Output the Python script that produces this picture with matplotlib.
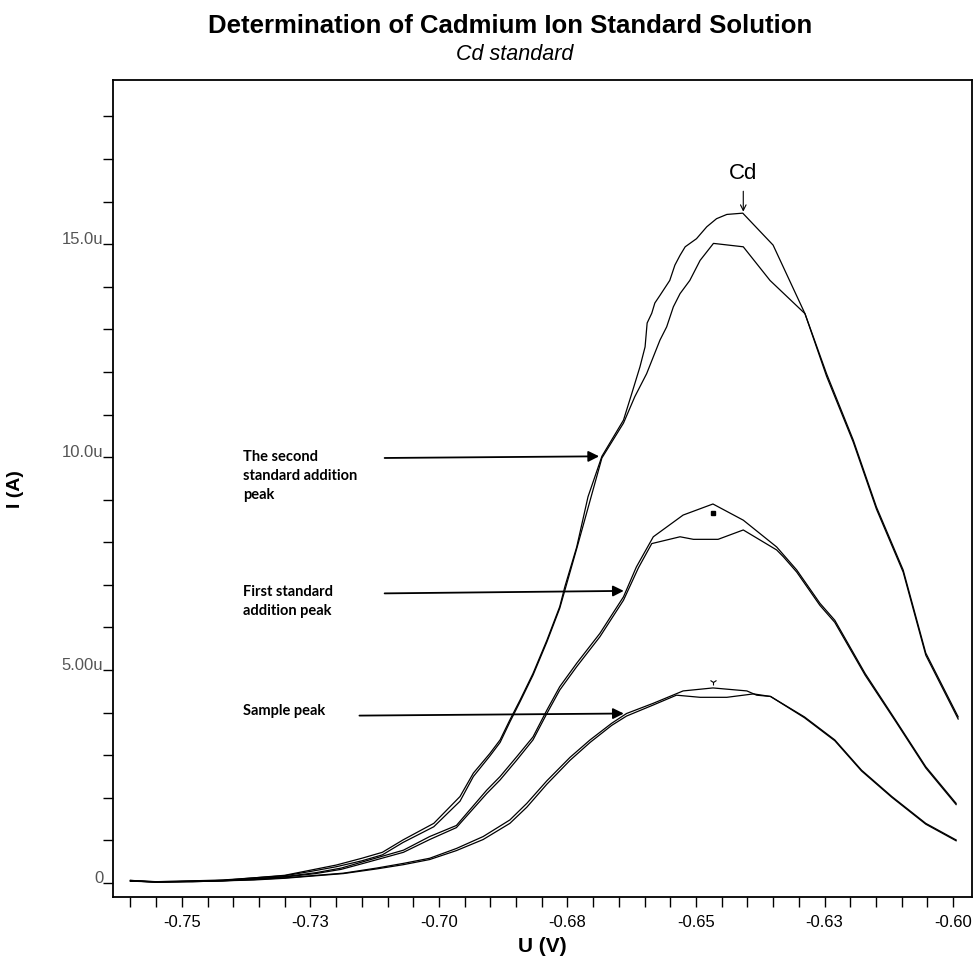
import numpy as np
import matplotlib.pyplot as plt
import matplotlib.transforms as mtransforms
from matplotlib.ticker import MultipleLocator, FixedLocator, FixedFormatter, FuncFormatter

# Cd differential pulse peaks, potential in V, current in uA
# second standard addition, two runs
u_std2_a = [-0.760, -0.755, -0.748, -0.742, -0.736, -0.730, -0.725, -0.720, -0.715, -0.711,
            -0.707, -0.701, -0.6959, -0.6933, -0.6901, -0.6881, -0.6862, -0.6842, -0.6817,
            -0.6790, -0.6765, -0.6755, -0.6732, -0.6710, -0.6683, -0.6641, -0.6625, -0.6609,
            -0.6599, -0.6595, -0.6586, -0.6580, -0.6570, -0.6551, -0.6541, -0.6531, -0.6521,
            -0.6499, -0.6479, -0.6460, -0.6440, -0.6409, -0.6350, -0.6288, -0.6246, -0.6194,
            -0.6149, -0.6097, -0.6053, -0.5990]
i_std2_a = [0.06, 0.02, 0.04, 0.06, 0.12, 0.18, 0.30, 0.42, 0.58, 0.72,
            1.01, 1.40, 2.03, 2.58, 3.04, 3.36, 3.83, 4.30, 4.92,
            5.70, 6.49, 6.96, 7.89, 9.07, 10.02, 10.87, 11.49, 12.12,
            12.59, 13.15, 13.38, 13.62, 13.80, 14.15, 14.51, 14.74, 14.94,
            15.13, 15.41, 15.60, 15.70, 15.73, 14.98, 13.37, 11.96, 10.40,
            8.83, 7.35, 5.40, 3.90]

u_std2_b = [-0.760, -0.755, -0.748, -0.742, -0.736, -0.730, -0.725, -0.720, -0.715, -0.711,
            -0.707, -0.701, -0.6959, -0.6933, -0.6901, -0.6881, -0.6862, -0.6842, -0.6817,
            -0.6790, -0.6765, -0.6732, -0.6683, -0.6641, -0.6619, -0.6596, -0.6570, -0.6557,
            -0.6544, -0.6531, -0.6512, -0.6492, -0.6466, -0.6408, -0.6356, -0.6288, -0.6246,
            -0.6194, -0.6149, -0.6097, -0.6053, -0.5990]
i_std2_b = [0.04, 0.03, 0.05, 0.07, 0.12, 0.17, 0.27, 0.38, 0.52, 0.66,
            0.95, 1.32, 1.92, 2.50, 2.98, 3.30, 3.78, 4.26, 4.88,
            5.66, 6.45, 7.85, 9.98, 10.80, 11.42, 11.96, 12.75, 13.06,
            13.53, 13.84, 14.15, 14.62, 15.02, 14.94, 14.15, 13.37, 11.90,
            10.35, 8.78, 7.30, 5.35, 3.85]

# first standard addition, two runs
u_std1_a = [-0.760, -0.755, -0.748, -0.742, -0.736, -0.730, -0.724, -0.719, -0.7147, -0.7069,
            -0.7018, -0.6966, -0.6907, -0.6881, -0.6849, -0.6817, -0.6790, -0.6765, -0.6732,
            -0.6687, -0.6641, -0.6616, -0.6583, -0.6525, -0.6467, -0.6408, -0.6343, -0.6304,
            -0.6259, -0.6230, -0.6171, -0.6112, -0.6053, -0.5994]
i_std1_a = [0.05, 0.02, 0.03, 0.05, 0.10, 0.15, 0.24, 0.35, 0.50, 0.77,
            1.09, 1.35, 2.18, 2.50, 2.96, 3.43, 4.06, 4.61, 5.16,
            5.86, 6.72, 7.42, 8.13, 8.64, 8.90, 8.52, 7.89, 7.35,
            6.57, 6.17, 4.92, 3.83, 2.73, 1.87]

u_std1_b = [-0.760, -0.755, -0.748, -0.742, -0.736, -0.730, -0.724, -0.719, -0.7147, -0.7069,
            -0.7018, -0.6966, -0.6907, -0.6881, -0.6849, -0.6817, -0.6790, -0.6765, -0.6732,
            -0.6687, -0.6641, -0.6612, -0.6586, -0.6531, -0.6505, -0.6457, -0.6408, -0.6343,
            -0.6330, -0.6304, -0.6259, -0.6230, -0.6171, -0.6112, -0.6053, -0.5994]
i_std1_b = [0.04, 0.03, 0.04, 0.06, 0.09, 0.14, 0.22, 0.32, 0.46, 0.72,
            1.02, 1.30, 2.10, 2.42, 2.88, 3.36, 3.98, 4.53, 5.08,
            5.78, 6.64, 7.40, 7.97, 8.13, 8.07, 8.07, 8.29, 7.82,
            7.66, 7.30, 6.52, 6.12, 4.88, 3.80, 2.70, 1.84]

# sample, two runs
u_samp_a = [-0.760, -0.755, -0.748, -0.742, -0.736, -0.730, -0.7238, -0.7186, -0.7121, -0.7069,
            -0.7018, -0.6966, -0.6914, -0.6862, -0.6829, -0.6790, -0.6745, -0.6706, -0.6664,
            -0.6635, -0.6583, -0.6525, -0.6467, -0.6401, -0.6382, -0.6355, -0.6289, -0.6230,
            -0.6178, -0.6119, -0.6053, -0.5994]
i_samp_a = [0.06, 0.03, 0.03, 0.05, 0.08, 0.12, 0.18, 0.23, 0.35, 0.46,
            0.58, 0.81, 1.09, 1.48, 1.87, 2.40, 2.95, 3.36, 3.75,
            3.98, 4.22, 4.51, 4.58, 4.51, 4.41, 4.38, 3.90, 3.36,
            2.65, 2.03, 1.40, 1.01]

u_samp_b = [-0.760, -0.755, -0.748, -0.742, -0.736, -0.730, -0.7238, -0.7186, -0.7121, -0.7069,
            -0.7018, -0.6966, -0.6914, -0.6862, -0.6829, -0.6790, -0.6745, -0.6706, -0.6664,
            -0.6635, -0.6583, -0.6538, -0.6492, -0.6440, -0.6388, -0.6355, -0.6289, -0.6230,
            -0.6178, -0.6119, -0.6053, -0.5994]
i_samp_b = [0.05, 0.02, 0.04, 0.05, 0.07, 0.11, 0.17, 0.22, 0.33, 0.43,
            0.55, 0.76, 1.02, 1.40, 1.78, 2.32, 2.88, 3.30, 3.70,
            3.92, 4.18, 4.41, 4.36, 4.36, 4.44, 4.38, 3.88, 3.34,
            2.63, 2.01, 1.38, 0.99]

x_ticks = [-0.75, -0.725, -0.70, -0.675, -0.65, -0.625, -0.60]
x_ticklabels = ['-0.75', '-0.73', '-0.70', '-0.68', '-0.65', '-0.63', '-0.60']
y_ticks = [0, 5, 10, 15]

fig = plt.figure(figsize=(9.74, 9.56), dpi=100)
ax = fig.add_axes([0.116, 0.0617, 0.882, 0.8543])

curves = [(u_std2_a, i_std2_a), (u_std2_b, i_std2_b),
          (u_std1_a, i_std1_a), (u_std1_b, i_std1_b),
          (u_samp_a, i_samp_a), (u_samp_b, i_samp_b)]
for u, i in curves:
    ax.plot(u, i, color='black', lw=0.9)

# little peak markers
ax.plot(-0.6467, 8.68, marker='s', ms=2.5, color='black')
ax.plot(-0.6467, 4.72, marker='1', ms=5, color='black', mew=0.8)

# Cd peak label
ax.text(-0.6408, 16.67, 'Cd', ha='center', va='center', fontsize=16,
        family='Liberation Sans')
ax.annotate('', xy=(-0.6408, 15.70), xytext=(-0.6408, 16.31),
            arrowprops=dict(arrowstyle='->', lw=0.8, color='black'))

# annotations
note_font = dict(family='Lato', fontweight='bold', fontsize=10.5, linespacing=1.45)
ax.text(-0.7381, 9.55, 'The second\nstandard addition\npeak', va='center', ha='left', **note_font)
ax.text(-0.7381, 6.62, 'First standard\naddition peak', va='center', ha='left', **note_font)
ax.text(-0.7381, 4.04, 'Sample peak', va='center', ha='left', **note_font)

arrow = dict(arrowstyle='-|>', lw=1.3, color='black', mutation_scale=16)
ax.annotate('', xy=(-0.6683, 10.02), xytext=(-0.7111, 9.98), arrowprops=arrow)
ax.annotate('', xy=(-0.6635, 6.86), xytext=(-0.7111, 6.80), arrowprops=arrow)
ax.annotate('', xy=(-0.6635, 3.98), xytext=(-0.7160, 3.93), arrowprops=arrow)

ax.set_xlim(-0.7634, -0.5963)
ax.set_ylim(-0.33, 18.85)

ax.xaxis.set_major_locator(FixedLocator(x_ticks))
ax.xaxis.set_major_formatter(FixedFormatter(x_ticklabels))
ax.xaxis.set_minor_locator(MultipleLocator(0.005))
ax.yaxis.set_major_locator(FixedLocator(y_ticks))
ax.yaxis.set_major_formatter(FuncFormatter(lambda v, p: '0' if v == 0 else f'{v:#.3g}u'))
ax.yaxis.set_minor_locator(MultipleLocator(1))

ax.tick_params(which='both', direction='out', length=7, width=1)
ax.tick_params(axis='x', labelsize=12, pad=6)
ax.tick_params(axis='y', labelsize=12, labelcolor='#555555', pad=0)
for lab in ax.get_xticklabels():
    lab.set_family('Liberation Sans')
# y labels sit a little above their tick
lift = mtransforms.ScaledTranslation(0, 6 / 100, fig.dpi_scale_trans)
for lab in ax.get_yticklabels():
    lab.set_family('Liberation Sans')
    lab.set_transform(lab.get_transform() + lift)
for sp in ax.spines.values():
    sp.set_linewidth(1.3)

ax.set_xlabel('U (V)', fontsize=15, fontweight='bold', family='Liberation Sans', labelpad=5)
ax.yaxis.set_label_coords(-0.103, 0.5)
ax.set_ylabel('I (A)', fontsize=14, fontweight='bold', family='Liberation Sans')

fig.text(0.5236, 0.9725, 'Determination of Cadmium Ion Standard Solution', ha='center', va='center',
         fontsize=18.5, fontweight='bold', family='Liberation Sans')
fig.text(0.5287, 0.9435, 'Cd standard', ha='center', va='center', fontsize=15.5,
         style='italic', family='Liberation Sans')

fig.savefig('out.png', dpi=100)
